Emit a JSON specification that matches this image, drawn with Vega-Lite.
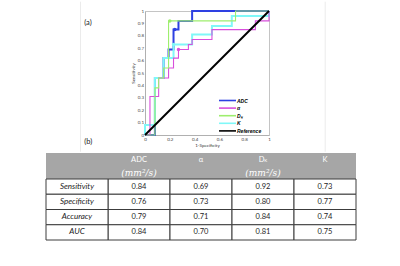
{
  "$schema": "https://vega.github.io/schema/vega-lite/v6.json",
  "padding": {"left": 45, "top": 0, "right": 0, "bottom": 0},
  "spacing": 0,
  "background": "white",
  "resolve": {"scale": {"color": "independent", "x": "independent", "y": "independent"}, "legend": {"color": "independent"}},
  "config": {"font": "Lato", "axis": {"labelOverlap": false}},
  "datasets": {
    "roc": [
      {"series": "ADC", "i": 1, "x": 0, "y": 0}, {"series": "ADC", "i": 2, "x": 0.08, "y": 0}, {"series": "ADC", "i": 3, "x": 0.08, "y": 0.46}, {"series": "ADC", "i": 4, "x": 0.15, "y": 0.46}, {"series": "ADC", "i": 5, "x": 0.15, "y": 0.62}, {"series": "ADC", "i": 6, "x": 0.19, "y": 0.62}, {"series": "ADC", "i": 7, "x": 0.19, "y": 0.69}, {"series": "ADC", "i": 8, "x": 0.23, "y": 0.69}, {"series": "ADC", "i": 9, "x": 0.23, "y": 0.85}, {"series": "ADC", "i": 10, "x": 0.27, "y": 0.85}, {"series": "ADC", "i": 11, "x": 0.27, "y": 0.92}, {"series": "ADC", "i": 12, "x": 0.38, "y": 0.92}, {"series": "ADC", "i": 13, "x": 0.38, "y": 1}, {"series": "ADC", "i": 14, "x": 1, "y": 1},
      {"series": "α", "i": 1, "x": 0, "y": 0}, {"series": "α", "i": 2, "x": 0.04, "y": 0}, {"series": "α", "i": 3, "x": 0.04, "y": 0.31}, {"series": "α", "i": 4, "x": 0.11, "y": 0.31}, {"series": "α", "i": 5, "x": 0.11, "y": 0.46}, {"series": "α", "i": 6, "x": 0.19, "y": 0.46}, {"series": "α", "i": 7, "x": 0.19, "y": 0.54}, {"series": "α", "i": 8, "x": 0.23, "y": 0.54}, {"series": "α", "i": 9, "x": 0.23, "y": 0.62}, {"series": "α", "i": 10, "x": 0.27, "y": 0.62}, {"series": "α", "i": 11, "x": 0.27, "y": 0.69}, {"series": "α", "i": 12, "x": 0.35, "y": 0.69}, {"series": "α", "i": 13, "x": 0.35, "y": 0.73}, {"series": "α", "i": 14, "x": 0.38, "y": 0.73}, {"series": "α", "i": 15, "x": 0.38, "y": 0.77}, {"series": "α", "i": 16, "x": 0.54, "y": 0.77}, {"series": "α", "i": 17, "x": 0.54, "y": 0.85}, {"series": "α", "i": 18, "x": 0.89, "y": 0.85}, {"series": "α", "i": 19, "x": 0.89, "y": 0.92}, {"series": "α", "i": 20, "x": 1, "y": 0.92}, {"series": "α", "i": 21, "x": 1, "y": 1},
      {"series": "Dₖ", "i": 1, "x": 0, "y": 0}, {"series": "Dₖ", "i": 2, "x": 0.08, "y": 0}, {"series": "Dₖ", "i": 3, "x": 0.08, "y": 0.38}, {"series": "Dₖ", "i": 4, "x": 0.11, "y": 0.38}, {"series": "Dₖ", "i": 5, "x": 0.11, "y": 0.46}, {"series": "Dₖ", "i": 6, "x": 0.15, "y": 0.46}, {"series": "Dₖ", "i": 7, "x": 0.15, "y": 0.54}, {"series": "Dₖ", "i": 8, "x": 0.19, "y": 0.54}, {"series": "Dₖ", "i": 9, "x": 0.19, "y": 0.92}, {"series": "Dₖ", "i": 10, "x": 0.73, "y": 0.92}, {"series": "Dₖ", "i": 11, "x": 0.73, "y": 1}, {"series": "Dₖ", "i": 12, "x": 1, "y": 1},
      {"series": "K", "i": 1, "x": 0, "y": 0}, {"series": "K", "i": 2, "x": 0, "y": 0.08}, {"series": "K", "i": 3, "x": 0.08, "y": 0.08}, {"series": "K", "i": 4, "x": 0.08, "y": 0.46}, {"series": "K", "i": 5, "x": 0.15, "y": 0.46}, {"series": "K", "i": 6, "x": 0.15, "y": 0.62}, {"series": "K", "i": 7, "x": 0.23, "y": 0.62}, {"series": "K", "i": 8, "x": 0.23, "y": 0.73}, {"series": "K", "i": 9, "x": 0.38, "y": 0.73}, {"series": "K", "i": 10, "x": 0.38, "y": 0.81}, {"series": "K", "i": 11, "x": 0.54, "y": 0.81}, {"series": "K", "i": 12, "x": 0.54, "y": 0.88}, {"series": "K", "i": 13, "x": 0.70, "y": 0.88}, {"series": "K", "i": 14, "x": 0.70, "y": 0.96}, {"series": "K", "i": 15, "x": 1, "y": 0.96}, {"series": "K", "i": 16, "x": 1, "y": 1},
      {"series": "Reference", "i": 1, "x": 0, "y": 0}, {"series": "Reference", "i": 2, "x": 1, "y": 1}
    ],
    "cutoffs": [
      {"series": "ADC", "x": 0.24, "y": 0.85},
      {"series": "α", "x": 0.27, "y": 0.69},
      {"series": "Dₖ", "x": 0.2, "y": 0.92},
      {"series": "K", "x": 0.23, "y": 0.73}
    ],
    "frame": [
      {"x": -0.52, "y": 1.075, "y2": -0.135},
      {"x": 1.453, "y": 1.075, "y2": -0.135}
    ],
    "panels": [
      {"tag": "(a)", "x": -0.49, "y": 0.9},
      {"tag": "(b)", "x": -0.49, "y": -0.054}
    ],
    "header": [
      {"param": "ADC", "name": "ADC", "unit": "(mm²/s)"},
      {"param": "alpha", "name": "α"},
      {"param": "DK", "name": "D", "unit": "(mm²/s)", "sub": "K"},
      {"param": "K", "name": "K"}
    ],
    "cells": [
      {"metric": "Sensitivity", "ADC": 0.84, "alpha": 0.69, "DK": 0.92, "K": 0.73},
      {"metric": "Specificity", "ADC": 0.76, "alpha": 0.73, "DK": 0.80, "K": 0.77},
      {"metric": "Accuracy", "ADC": 0.79, "alpha": 0.71, "DK": 0.84, "K": 0.74},
      {"metric": "AUC", "ADC": 0.84, "alpha": 0.70, "DK": 0.81, "K": 0.75}
    ]
  },
  "vconcat": [
    {
      "resolve": {"scale": {"color": "independent"}, "legend": {"color": "independent"}},
      "spacing": 0,
      "hconcat": [
        {
          "width": 33,
          "height": 124,
          "view": {"fill": "white", "stroke": null},
          "data": {"values": []},
          "mark": "point"
        },
        {
          "width": 124,
          "height": 124,
          "view": {"stroke": "#c4c4c4", "strokeWidth": 1},
          "encoding": {
            "x": {"field": "x", "type": "quantitative", "scale": {"domain": [0, 1]},
              "axis": {"values": [0, 0.2, 0.4, 0.6, 0.8, 1], "format": "~g", "title": "1-Specificity", "domain": true, "domainColor": "#b0b0b0", "ticks": false, "labelFontSize": 4.5, "labelColor": "#444", "labelPadding": 1.5, "labelOverlap": false, "labelFlush": false, "labelBound": false, "titleFontSize": 4.5, "titleFontWeight": "normal", "titleColor": "#333", "titlePadding": 1, "grid": false}},
            "y": {"field": "y", "type": "quantitative", "scale": {"domain": [0, 1]},
              "axis": {"values": [0, 0.1, 0.2, 0.3, 0.4, 0.5, 0.6, 0.7, 0.8, 0.9, 1], "format": "~g", "title": "Sensitivity", "domain": true, "domainColor": "#b0b0b0", "ticks": false, "labelFontSize": 4.5, "labelColor": "#444", "labelPadding": 1.5, "labelOverlap": false, "labelFlush": false, "labelBound": false, "titleFontSize": 4.5, "titleFontWeight": "normal", "titleColor": "#333", "titlePadding": 2, "grid": false}}
          },
          "layer": [
            {
              "data": {"name": "frame"},
              "mark": {"type": "rule", "color": "#ebebeb", "strokeWidth": 1},
              "encoding": {
                "y2": {"field": "y2"}
              }
            },
            {
              "data": {"name": "roc"},
              "transform": [{"filter": "datum.series === 'ADC' || datum.series === 'K'"}],
              "mark": {"type": "line", "strokeWidth": 2},
              "encoding": {
                "color": {"field": "series", "type": "nominal",
                  "scale": {"domain": ["ADC", "α", "Dₖ", "K", "Reference"], "range": ["#2e40e2", "#d84fdc", "#9eee6e", "#80f8f8", "#000000"]},
                  "legend": {"title": null, "orient": "none", "legendX": 79, "legendY": 86, "padding": 0, "symbolType": "M-3.4,0H3.4", "symbolSize": 25, "symbolStrokeWidth": 1.6, "labelFontSize": 5, "labelFont": "Liberation Sans", "labelFontStyle": "italic", "labelFontWeight": "bold", "labelColor": "#000", "labelOffset": 6, "rowPadding": 0.6}},
                "order": {"field": "i", "type": "quantitative"}
              }
            },
            {
              "data": {"name": "roc"},
              "transform": [{"filter": "datum.series === 'α' || datum.series === 'Dₖ'"}],
              "mark": {"type": "line", "strokeWidth": 1.1},
              "encoding": {
                "color": {"field": "series", "type": "nominal"},
                "order": {"field": "i", "type": "quantitative"}
              }
            },
            {
              "data": {"name": "roc"},
              "transform": [{"filter": "datum.series === 'Reference'"}],
              "mark": {"type": "line", "strokeWidth": 2},
              "encoding": {
                "color": {"field": "series", "type": "nominal"},
                "order": {"field": "i", "type": "quantitative"}
              }
            },
            {
              "data": {"name": "cutoffs"},
              "mark": {"type": "circle", "size": 12, "opacity": 1},
              "encoding": {
                "color": {"field": "series", "type": "nominal"}
              }
            },
            {
              "data": {"name": "panels"},
              "mark": {"type": "text", "align": "left", "baseline": "middle", "fontSize": 7.5, "font": "Lato", "color": "#222"},
              "encoding": {
                "text": {"field": "tag"}
              }
            }
          ]
        }
      ]
    },
    {
      "vconcat": [
        {
          "width": 310,
          "height": 26,
          "view": {"fill": "#a6a6a6", "stroke": null},
          "data": {"name": "header"},
          "encoding": {
            "x": {"field": "param", "type": "nominal", "scale": {"domain": ["label", "ADC", "alpha", "DK", "K"], "paddingInner": 0, "paddingOuter": 0}, "axis": null}
          },
          "layer": [
            {
              "transform": [{"filter": "datum.param !== 'DK'"}],
              "mark": {"type": "text", "color": "white", "fontSize": 7.5, "font": "Lato"},
              "encoding": {
                "y": {"datum": "name", "type": "nominal", "scale": {"domain": ["name", "unit"], "paddingInner": 0, "paddingOuter": 0}, "axis": null},
                "text": {"field": "name"}
              }
            },
            {
              "transform": [{"filter": "datum.param === 'DK'"}],
              "mark": {"type": "text", "color": "white", "fontSize": 7.5, "font": "Lato", "dx": -1.5},
              "encoding": {
                "y": {"datum": "name", "type": "nominal"},
                "text": {"field": "name"}
              }
            },
            {
              "transform": [{"filter": "datum.sub"}],
              "mark": {"type": "text", "color": "white", "fontSize": 4.5, "font": "Lato", "dx": 2.8, "dy": 1.8},
              "encoding": {
                "y": {"datum": "name", "type": "nominal"},
                "text": {"field": "sub"}
              }
            },
            {
              "transform": [{"filter": "datum.unit"}],
              "mark": {"type": "text", "color": "white", "fontSize": 9, "font": "DejaVu Serif", "fontStyle": "italic"},
              "encoding": {
                "y": {"datum": "unit", "type": "nominal"},
                "text": {"field": "unit"}
              }
            }
          ]
        },
        {
          "width": 310,
          "height": 61,
          "view": {"stroke": null},
          "data": {"name": "cells"},
          "layer": [
            {
              "transform": [{"fold": ["ADC", "alpha", "DK", "K"], "as": ["param", "value"]}],
              "mark": {"type": "rect", "fill": "white", "stroke": "#3c3c3c", "strokeWidth": 1},
              "encoding": {
                "x": {"field": "param", "type": "nominal", "scale": {"domain": ["label", "ADC", "alpha", "DK", "K"], "paddingInner": 0, "paddingOuter": 0}, "axis": null},
                "y": {"field": "metric", "type": "nominal", "scale": {"domain": ["Sensitivity", "Specificity", "Accuracy", "AUC"], "paddingInner": 0, "paddingOuter": 0}, "axis": null}
              }
            },
            {
              "mark": {"type": "rect", "fill": "white", "stroke": "#3c3c3c", "strokeWidth": 1},
              "encoding": {
                "x": {"datum": "label", "type": "nominal"},
                "y": {"field": "metric", "type": "nominal"}
              }
            },
            {
              "transform": [{"fold": ["ADC", "alpha", "DK", "K"], "as": ["param", "value"]}],
              "mark": {"type": "text", "fontSize": 7.5, "font": "Lato", "color": "#262626"},
              "encoding": {
                "x": {"field": "param", "type": "nominal"},
                "y": {"field": "metric", "type": "nominal"},
                "text": {"field": "value", "type": "quantitative", "format": ".2f"}
              }
            },
            {
              "mark": {"type": "text", "fontSize": 8, "font": "Lato", "fontStyle": "italic", "color": "#1a1a1a"},
              "encoding": {
                "x": {"datum": "label", "type": "nominal"},
                "y": {"field": "metric", "type": "nominal"},
                "text": {"field": "metric"}
              }
            }
          ]
        }
      ],
      "spacing": 0,
      "bounds": "flush"
    }
  ]
}
